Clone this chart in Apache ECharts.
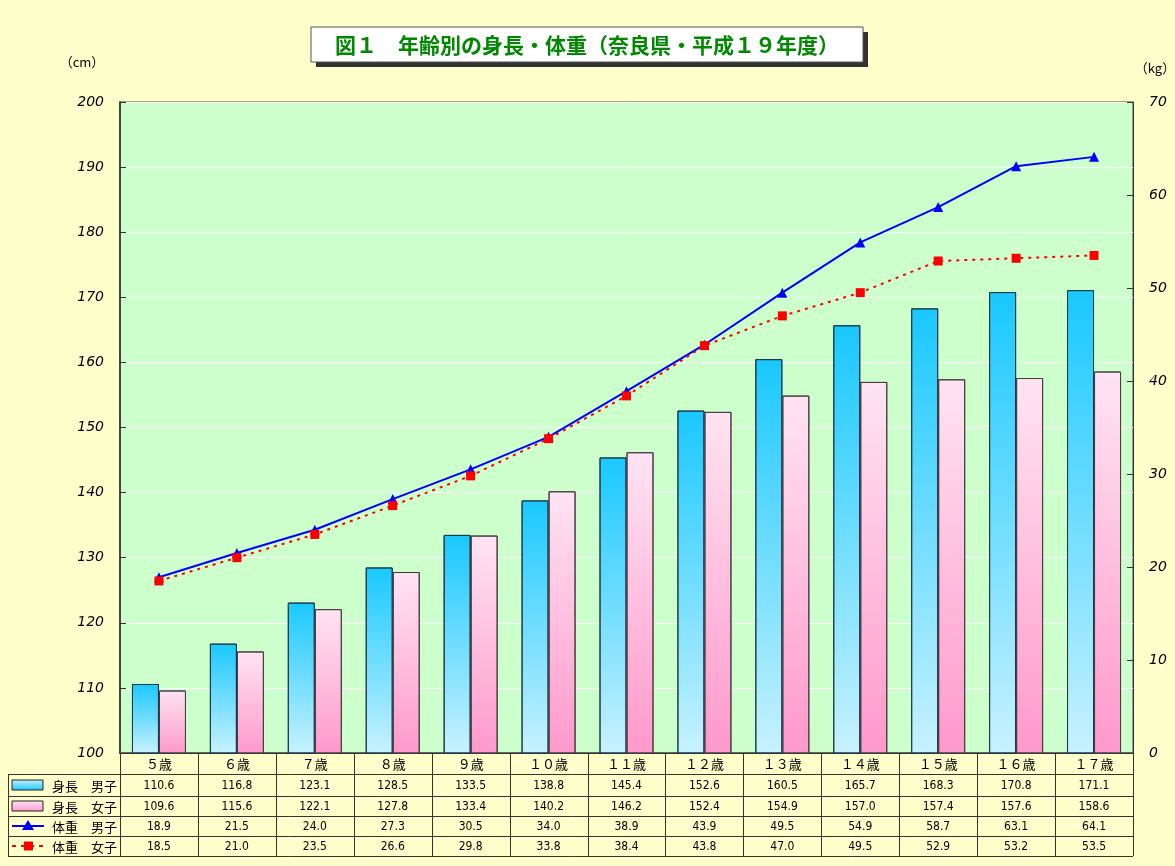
<!DOCTYPE html>
<html><head><meta charset="utf-8">
<script src="https://cdn.jsdelivr.net/npm/echarts@6/dist/echarts.min.js"></script>
<style>html,body{margin:0;padding:0;background:#FFFFCC;}#c{width:1175px;height:866px;}</style>
</head><body><div id="c"></div>
<script>
const categories = ['５歳','６歳','７歳','８歳','９歳','１０歳','１１歳','１２歳','１３歳','１４歳','１５歳','１６歳','１７歳'];
const heightBoys = [110.6,116.8,123.1,128.5,133.5,138.8,145.4,152.6,160.5,165.7,168.3,170.8,171.1];
const heightGirls = [109.6,115.6,122.1,127.8,133.4,140.2,146.2,152.4,154.9,157.0,157.4,157.6,158.6];
const weightBoys = [18.9,21.5,24.0,27.3,30.5,34.0,38.9,43.9,49.5,54.9,58.7,63.1,64.1];
const weightGirls = [18.5,21.0,23.5,26.6,29.8,33.8,38.4,43.8,47.0,49.5,52.9,53.2,53.5];
const seriesNames = ['身長　男子','身長　女子','体重　男子','体重　女子'];
const titleText = '図１　年齢別の身長・体重（奈良県・平成１９年度）';

const JP = '"Noto Sans CJK JP", sans-serif';
const chart = echarts.init(document.getElementById('c'));
const G = {left:120, top:102, right:1175-1133, bottom:866-753};
const blueGrad = new echarts.graphic.LinearGradient(0,0,0,1,[{offset:0,color:'#19C8FF'},{offset:1,color:'#C8F2FF'}]);
const pinkGrad = new echarts.graphic.LinearGradient(0,0,0,1,[{offset:0,color:'#FFE4F2'},{offset:1,color:'#FF99CC'}]);

chart.setOption({
  backgroundColor:'#FFFFCC',
  animation:false,
  grid:{left:G.left, top:G.top, right:G.right, bottom:G.bottom, show:true, backgroundColor:'#CCFFCC', borderColor:'#444', borderWidth:1},
  xAxis:{type:'category', data:categories, axisLabel:{show:false}, axisTick:{show:false}, axisLine:{lineStyle:{color:'#333'}}},
  yAxis:[
    {type:'value', min:100, max:200, interval:10, splitLine:{lineStyle:{color:'#FFFFFF', width:1}},
     axisLine:{show:true, lineStyle:{color:'#444', width:2}}, axisTick:{show:true, inside:true, length:6, lineStyle:{color:'#333'}},
     axisLabel:{fontStyle:'italic', fontSize:14, color:'#000', margin:16, fontFamily:'"DejaVu Sans", sans-serif'}},
    {type:'value', min:0, max:70, interval:10, splitLine:{show:false},
     axisLine:{show:true, lineStyle:{color:'#333'}}, axisTick:{show:true, inside:true, length:6, lineStyle:{color:'#333'}},
     axisLabel:{fontStyle:'italic', fontSize:14, color:'#000', margin:16, fontFamily:'"DejaVu Sans", sans-serif'}}
  ],
  series:[
    {name:seriesNames[0], type:'bar', data:heightBoys, barWidth:27, barGap:'0%', itemStyle:{color:blueGrad, borderColor:'#1a3a4a', borderWidth:1}},
    {name:seriesNames[1], type:'bar', data:heightGirls, barWidth:27, barGap:'0%', itemStyle:{color:pinkGrad, borderColor:'#4a3a44', borderWidth:1}},
    {name:seriesNames[2], type:'line', yAxisIndex:1, data:weightBoys, symbol:'triangle', symbolSize:10, lineStyle:{color:'#0000FF', width:2}, itemStyle:{color:'#0000FF'}, z:5},
    {name:seriesNames[3], type:'line', yAxisIndex:1, data:weightGirls, symbol:'rect', symbolSize:9, lineStyle:{color:'#FF0000', width:2, type:[3,5]}, itemStyle:{color:'#FF0000'}, z:6}
  ]
});

const els = [];
const L = 8, X0 = 120, X1 = 1133;
const rowY = [753, 774, 796, 816, 836, 856];
const n = categories.length;
const bw = (X1 - X0) / n;
const lineCol = '#333';
els.push({type:'rect', shape:{x:316,y:32,width:552,height:35}, style:{fill:'#333'}, silent:true});
els.push({type:'rect', shape:{x:311,y:27,width:552,height:35}, style:{fill:'#FFFFFF', stroke:'#555', lineWidth:1}, silent:true});
els.push({type:'text', x:587, y:45, style:{text:titleText, font:'bold 21px '+JP, fill:'#008800', align:'center', verticalAlign:'middle'}});
els.push({type:'text', x:82, y:62, style:{text:'（cm）', font:'13px '+JP, fill:'#000', align:'center', verticalAlign:'middle'}});
els.push({type:'text', x:1155, y:68, style:{text:'（kg）', font:'13px '+JP, fill:'#000', align:'center', verticalAlign:'middle'}});
els.push({type:'line', shape:{x1:X0,y1:rowY[0],x2:X1,y2:rowY[0]}, style:{stroke:lineCol, lineWidth:1}});
for (let r=1;r<rowY.length;r++){
  els.push({type:'line', shape:{x1:L,y1:rowY[r]+0.5,x2:X1,y2:rowY[r]+0.5}, style:{stroke:lineCol, lineWidth:1}});
}
els.push({type:'line', shape:{x1:L+0.5,y1:rowY[1],x2:L+0.5,y2:rowY[5]}, style:{stroke:lineCol, lineWidth:1}});
for (let i=0;i<=n;i++){
  const x = Math.round(X0 + i*bw)+0.5;
  els.push({type:'line', shape:{x1:x,y1:rowY[0],x2:x,y2:rowY[5]}, style:{stroke:lineCol, lineWidth:1}});
}
const rows = [heightBoys, heightGirls, weightBoys, weightGirls];
for (let i=0;i<n;i++){
  const cx = chart.convertToPixel({xAxisIndex:0}, i);
  els.push({type:'text', x:cx, y:(rowY[0]+rowY[1])/2+1, style:{text:categories[i], font:'13px '+JP, fill:'#000', align:'center', verticalAlign:'middle'}});
  rows.forEach((arr, r)=>{
    els.push({type:'text', x:cx, y:(rowY[r+1]+rowY[r+2])/2+1, style:{text:arr[i].toFixed(1), font:'12px "Liberation Sans Narrow", "DejaVu Sans Condensed", sans-serif', fill:'#000', align:'center', verticalAlign:'middle'}});
  });
}
for (let r=0;r<4;r++){
  const cy = (rowY[r+1]+rowY[r+2])/2;
  if (r===0) els.push({type:'rect', shape:{x:12,y:cy-5,width:31,height:10}, style:{fill:new echarts.graphic.LinearGradient(0,0,0,1,[{offset:0,color:'#C8F2FF'},{offset:1,color:'#19C8FF'}]), stroke:'#222', lineWidth:1}});
  if (r===1) els.push({type:'rect', shape:{x:12,y:cy-5,width:31,height:10}, style:{fill:new echarts.graphic.LinearGradient(0,0,0,1,[{offset:0,color:'#FFE4F2'},{offset:1,color:'#FF99CC'}]), stroke:'#222', lineWidth:1}});
  if (r===2){
    els.push({type:'line', shape:{x1:12,y1:cy,x2:44,y2:cy}, style:{stroke:'#0000FF', lineWidth:2}});
    els.push({type:'polygon', shape:{points:[[28,cy-6],[22,cy+4],[34,cy+4]]}, style:{fill:'#0000FF'}});
  }
  if (r===3){
    els.push({type:'line', shape:{x1:12,y1:cy,x2:44,y2:cy}, style:{stroke:'#FF0000', lineWidth:2, lineDash:[4,5]}});
    els.push({type:'rect', shape:{x:24,y:cy-4.5,width:9,height:9}, style:{fill:'#FF0000'}});
  }
  els.push({type:'text', x:52, y:cy+1, style:{text:seriesNames[r], font:'13px '+JP, fill:'#000', align:'left', verticalAlign:'middle'}});
}
chart.setOption({graphic:{elements:els}});
</script></body></html>
